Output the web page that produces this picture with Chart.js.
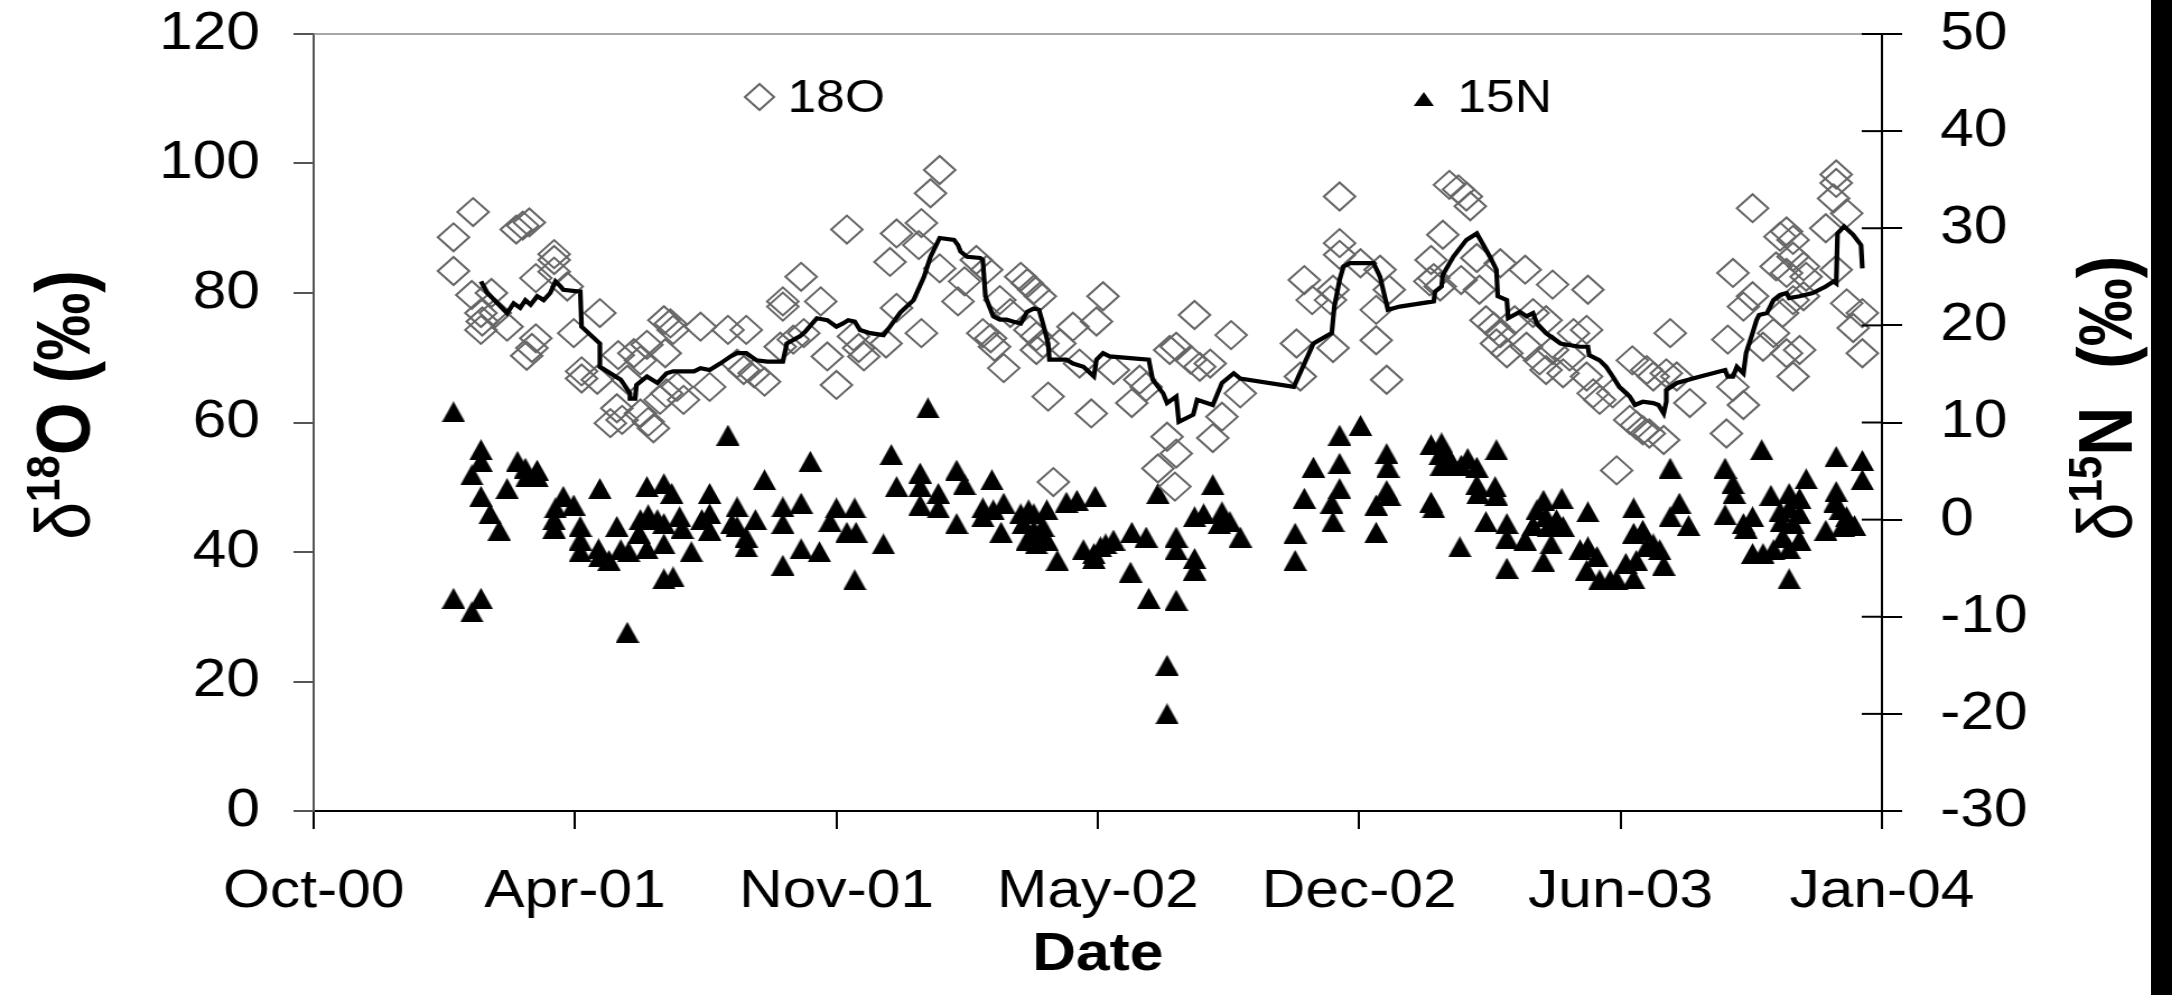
<!DOCTYPE html>
<html>
<head>
<meta charset="utf-8">
<title>d18O / d15N</title>
<script src="https://cdn.jsdelivr.net/npm/chart.js@4.4.1/dist/chart.umd.min.js"></script>
<style>
  html, body { margin: 0; padding: 0; background: #fff; overflow: hidden; }
  #wrap { position: absolute; left: 0; top: 0; width: 1939px; height: 995px;
          transform: scaleX(1.1202); transform-origin: 0 0; }
  #edge { position: absolute; left: 2151px; top: 0; width: 21px; height: 995px; background: #000; }
</style>
</head>
<body>
<div id="wrap"><canvas id="chart"></canvas></div>
<div id="edge"></div>
<script>
// dates are spreadsheet serial day numbers (1 = 1900-01-01)
const dateTicks = [36800, 37000, 37200, 37400, 37600, 37800, 38000];
const dateTickLabels = ['Oct-00', 'Apr-01', 'Nov-01', 'May-02', 'Dec-02', 'Jun-03', 'Jan-04'];

// delta 18O of nitrate (left axis)
const o18Dates = [
  36922, 36907, 36907, 36921, 36936, 36928, 36929, 36928, 36939, 36948, 36955, 36960, 36965, 36984, 36984,
  36970, 36984, 36994, 36970, 36967, 36963, 36999, 37005, 37005, 37019, 37017, 37033, 37045, 37050, 37055,
  37068, 37073, 37075, 37069, 37040, 37032, 37027, 37036, 37056, 37060, 37050, 37065, 37070, 37078, 37083,
  37096, 37103, 37117, 37131, 37124, 37129, 37137, 37145, 37159, 37159, 37173, 37188, 37157, 37167, 37175,
  37193, 37200, 37208, 37213, 37217, 37221, 37238, 37241, 37246, 37246,
  37279, 37272, 37265, 37263, 37265, 37279, 37293, 37298, 37307, 37315, 37312, 37318, 37321, 37325, 37328,
  37341, 37346, 37351, 37356, 37333, 37348, 37353, 37358, 37353, 37362, 37371, 37381, 37386, 37395, 37404,
  37399, 37412, 37426, 37432, 37437, 37455, 37460, 37474, 37471, 37478, 37486, 37453, 37460, 37446, 37459,
  37366, 37488, 37495, 37502, 37509, 37552, 37555, 37558, 37564, 37578, 37580, 37580, 37585, 37585, 37585,
  37601, 37613, 37613, 37616, 37621, 37623,
  37669, 37676, 37682, 37685, 37664, 37655, 37654, 37657, 37662, 37678, 37690, 37692, 37708, 37727, 37748,
  37775, 37697, 37703, 37708, 37705, 37713, 37719, 37733, 37743, 37728, 37738, 37743, 37756, 37748, 37761,
  37764, 37774, 37774, 37779, 37784, 37794, 37809, 37820, 37825, 37807, 37812, 37817, 37822, 37833, 37838,
  37835, 37843, 37853, 37797, 37881, 37886, 37882, 37886, 37894, 37901, 37894, 37901, 37909, 37917, 37922,
  37927, 37932, 37919, 37927, 37932, 37940, 37942, 37924, 37932, 37940, 37927, 37937, 37932, 37957, 37965,
  37965, 37963, 37973, 37965, 37973, 37985, 37978, 37985
];
const o18Values = [
  92.5, 88.6, 83.4, 79.7, 80.0, 76.9, 75.6, 74.3, 76.9, 74.8, 89.8, 90.4, 90.9, 86.0, 85.1,
  82.3, 83.3, 81.0, 73.0, 71.5, 70.3, 73.8, 67.9, 66.8, 76.9, 66.6, 70.4, 70.7, 69.6, 72.0,
  75.8, 75.3, 74.3, 70.7, 66.6, 62.2, 59.9, 60.4, 60.1, 59.1, 61.4, 63.5, 64.5, 65.5, 63.5,
  74.8, 65.5, 74.3, 74.3, 69.1, 68.1, 67.6, 66.3, 78.7, 77.9, 82.5, 78.7, 71.7, 72.8, 73.8,
  70.2, 65.8, 89.8, 73.3, 71.5, 70.2, 72.2, 84.8, 89.2, 77.7,
  99.0, 95.4, 90.8, 87.4, 73.8, 83.8, 78.7, 81.8, 85.1, 83.6, 73.8, 73.0, 71.7, 78.9, 68.4,
  82.5, 81.5, 80.5, 79.5, 76.9, 74.3, 73.3, 72.2, 71.2, 64.0, 72.2, 74.8, 69.1, 61.4, 79.5,
  75.6, 68.1, 63.0, 66.6, 65.5, 71.2, 71.7, 76.6, 69.7, 68.6, 69.1, 57.8, 55.2, 52.9, 50.1,
  50.8, 57.6, 60.9, 73.5, 64.5, 72.2, 67.1, 82.0, 78.9, 78.9, 80.5, 71.5, 94.9, 87.7, 85.9,
  84.6, 72.7, 77.4, 83.6, 66.6, 80.5,
  96.7, 96.0, 94.9, 93.4, 89.0, 85.1, 81.8, 82.3, 81.0, 82.0, 85.4, 80.5, 84.6, 83.6, 81.3,
  80.5, 75.8, 74.8, 73.8, 72.2, 70.7, 75.8, 76.9, 75.8, 71.7, 69.6, 68.1, 67.6, 71.2, 70.2,
  73.8, 74.3, 67.1, 64.5, 63.5, 64.5, 69.6, 68.1, 67.1, 60.4, 59.6, 58.8, 58.3, 57.3, 73.8,
  67.6, 67.1, 63.0, 52.6, 58.3, 83.1, 72.8, 65.5, 62.7, 93.1, 77.9, 79.5, 71.7, 73.8, 88.7,
  89.5, 88.2, 84.1, 83.1, 85.6, 84.1, 82.5, 76.9, 78.9, 79.5, 70.7, 71.2, 67.1, 90.0, 98.3,
  97.0, 94.6, 92.3, 83.6, 78.4, 76.9, 74.6, 70.7
];

// delta 15N of nitrate (right axis)
const n15Dates = [
  36907, 36928, 36928, 36921, 36928, 36935, 36942, 36956, 36962, 36963, 36971, 36971, 36948, 36907, 36928,
  36921, 36991, 36985, 36999, 36984, 36984, 37004, 37004, 37004, 37019, 37018, 37026, 37019, 37032, 37035,
  37041, 37055, 37068, 37074, 37050, 37056, 37063, 37068, 37049, 37055, 37068, 37080, 37082, 37089, 37068,
  37075, 37103, 37097, 37103, 37103, 37117, 37124, 37120, 37124, 37131, 37131, 37138, 37145, 37159, 37159,
  37173, 37180, 37159, 37173, 37187, 37200, 37214, 37195, 37208, 37215, 37214, 37236, 37242, 37246, 37040,
  37270, 37264, 37264, 37264, 37278, 37278, 37292, 37298, 37319, 37292, 37312, 37312, 37320, 37328, 37326,
  37341, 37347, 37351, 37361, 37343, 37351, 37358, 37346, 37353, 37361, 37369, 37376, 37384, 37398, 37389,
  37397, 37402, 37406, 37412, 37397, 37426, 37437, 37425, 37439, 37460, 37460, 37460, 37474, 37474, 37446,
  37488, 37474, 37481, 37495, 37493, 37501, 37509, 37453, 37453, 37551, 37551, 37558, 37565, 37585, 37601,
  37585, 37585, 37579, 37580, 37621, 37622, 37621, 37613, 37613, 37623,
  37655, 37663, 37662, 37667, 37663, 37671, 37678, 37683, 37690, 37705, 37690, 37691, 37704, 37705, 37655,
  37657, 37677, 37697, 37713, 37713, 37727, 37713, 37741, 37755, 37736, 37743, 37751, 37733, 37745, 37756,
  37747, 37741, 37775, 37769, 37775, 37782, 37774, 37784, 37792, 37797, 37810, 37810, 37810, 37817, 37820,
  37825, 37830, 37804, 37812, 37833, 37838, 37845, 37838, 37852, 37880, 37886, 37887, 37880, 37894, 37901,
  37896, 37908, 37915, 37929, 37937, 37942, 37922, 37929, 37937, 37923, 37932, 37924, 37937, 37929, 37901,
  37909, 37917, 37929, 37965, 37985, 37985, 37965, 37964, 37968, 37973, 37979, 37957, 37970
];
const n15Values = [
  11.1, 7.2, 6.0, 4.6, 2.4, 0.6, -1.1, 6.0, 5.3, 4.4, 5.1, 4.4, 3.2, -8.1, -8.1,
  -9.5, 2.4, 1.2, 1.5, 0.0, -0.9, -0.7, -2.1, -3.3, 3.2, -3.0, -4.2, -3.8, -0.7, -3.1,
  -3.3, 3.4, 3.7, 2.7, 0.0, 0.5, 0.0, -0.4, -1.4, -3.0, -2.5, 0.3, -0.9, -3.3, -6.1,
  -5.9, 2.7, 0.0, 0.6, -1.1, 8.7, 1.3, -0.4, -0.7, -1.8, -2.8, 0.0, 4.1, 1.3, -0.4,
  1.7, 6.0, -4.7, -3.0, -3.3, 1.2, 1.2, -0.2, -1.3, -1.3, -6.2, -2.5, 6.7, 3.4, -11.6,
  11.5, 4.8, 3.4, 1.5, 2.7, 1.2, 5.1, 3.6, 4.1, -0.4, 1.2, 0.3, 1.0, 1.7, -1.3,
  0.6, 1.0, 0.6, 1.0, -0.4, -1.1, -0.7, -2.1, -2.5, -2.1, -4.2, 1.8, 2.0, 2.4, -3.1,
  -3.5, -2.8, -2.5, -2.1, -4.0, -1.3, -1.8, -5.4, -8.1, -8.3, -1.8, -3.1, -4.0, -5.2, 2.7,
  3.6, 0.3, 0.6, 0.8, -0.4, -0.2, -1.8, -15.0, -20.0, -1.4, -4.2, 2.2, 5.4, 8.7, 9.7,
  5.8, 3.2, 1.7, -0.2, 6.8, 5.4, 3.0, 1.5, -1.3, 2.5,
  7.7, 7.9, 6.7, 6.8, 5.6, 5.8, 5.6, 6.3, 5.4, 7.2, 3.6, 2.7, 3.4, 2.5, 1.8,
  1.2, -2.8, -0.2, -0.4, -1.9, -2.1, -5.0, 2.0, 2.2, 1.0, 0.3, 0.0, -0.6, -0.7, -0.7,
  -2.5, -4.3, 0.8, -3.1, -2.8, -3.8, -5.2, -6.2, -6.2, -6.2, -6.1, 1.2, -1.4, -1.1, -2.8,
  -2.5, -3.1, -4.5, -4.2, -4.7, 5.3, 1.7, 0.3, -0.6, 5.3, 3.7, 2.7, 0.5, -0.4, 0.3,
  -0.9, 7.2, 2.5, 2.7, 2.2, 4.2, 0.8, 1.2, 0.6, -0.2, -0.4, -1.8, -2.1, -3.0, -3.5,
  -3.5, -3.1, -6.1, 6.5, 6.1, 4.1, 2.9, 1.8, 1.0, 0.3, -0.6, -1.1, -0.7
];

// running mean of 18O drawn as the black line (left axis)
const trendDates = [
  36928, 36933, 36948, 36953, 36958, 36962, 36966, 36971, 36976, 36981, 36985, 36989, 36991, 37004, 37005,
  37019, 37019, 37035, 37042, 37042, 37046, 37047, 37055, 37063, 37070, 37075, 37091, 37096, 37103, 37111,
  37119, 37124, 37131, 37139, 37147, 37159, 37162, 37172, 37176, 37185, 37193, 37200, 37205, 37209, 37214,
  37218, 37226, 37236, 37241, 37249, 37259, 37267, 37272, 37279, 37290, 37293, 37295, 37300, 37310, 37312,
  37314, 37318, 37320, 37325, 37330, 37335, 37341, 37346, 37351, 37355, 37358, 37362, 37363, 37376, 37381,
  37389, 37397, 37399, 37404, 37409, 37427, 37439, 37442, 37450, 37453, 37460, 37462, 37473, 37476, 37488,
  37495, 37504, 37509, 37550, 37565, 37579, 37581, 37585, 37588, 37593, 37611, 37616, 37622, 37631, 37657,
  37658, 37663, 37664, 37672, 37682, 37690, 37692, 37700, 37705, 37706, 37713, 37714, 37723, 37728, 37733,
  37736, 37743, 37754, 37759, 37769, 37775, 37776, 37784, 37789, 37794, 37799, 37807, 37811, 37817, 37825,
  37829, 37833, 37835, 37835, 37843, 37861, 37880, 37882, 37886, 37889, 37894, 37896, 37901, 37904, 37906,
  37912, 37917, 37922, 37927, 37929, 37937, 37947, 37957, 37963, 37965, 37966, 37971, 37978, 37984, 37985
];
const trendValues = [
  81.8, 80.0, 76.9, 78.4, 77.7, 78.9, 78.2, 79.5, 78.9, 80.0, 81.8, 81.0, 80.5, 80.2, 74.8,
  72.2, 68.6, 66.6, 64.5, 63.7, 63.7, 65.8, 67.1, 66.1, 67.6, 67.9, 67.9, 68.4, 68.1, 69.1,
  70.2, 70.7, 70.7, 69.6, 69.4, 69.4, 72.2, 73.3, 74.0, 76.1, 75.8, 74.8, 75.3, 75.8, 75.6,
  74.3, 73.8, 73.5, 74.8, 77.0, 78.9, 82.5, 85.6, 88.5, 88.2, 87.4, 86.4, 85.6, 85.4, 85.1,
  79.5, 77.4, 76.4, 75.9, 75.9, 75.6, 75.3, 77.1, 77.6, 77.4, 75.3, 72.2, 69.7, 69.7, 69.1,
  68.6, 67.1, 69.7, 70.7, 70.2, 69.9, 69.7, 66.6, 64.5, 63.0, 64.0, 60.1, 61.2, 63.5, 62.7,
  66.1, 67.6, 66.8, 65.5, 72.2, 73.8, 77.9, 82.0, 84.1, 84.6, 84.6, 82.5, 77.4, 77.9, 78.7,
  80.2, 81.0, 82.8, 85.6, 88.2, 89.2, 88.5, 85.6, 83.6, 79.5, 78.9, 76.1, 77.1, 76.4, 76.9,
  75.3, 73.8, 72.2, 72.0, 71.7, 71.7, 70.4, 69.6, 68.6, 67.1, 65.5, 64.0, 62.7, 63.2, 63.0,
  62.7, 61.4, 63.2, 65.0, 66.1, 67.1, 68.1, 67.1, 67.1, 68.6, 67.6, 70.7, 73.8, 75.8, 76.6,
  76.9, 78.9, 79.7, 80.0, 79.2, 79.5, 80.0, 81.0, 81.8, 81.5, 89.2, 90.3, 89.0, 87.4, 83.8
];

const FONT = '"Liberation Sans", Arial, sans-serif';
const pts = (xs, ys) => xs.map((x, i) => ({ x: x, y: ys[i] }));

// filled triangle marker, a bit taller than an equilateral one, centred on its box
function triangleMark(w, h) {
  const c = document.createElement('canvas');
  c.width = w;
  c.height = h;
  const g = c.getContext('2d');
  g.fillStyle = '#000';
  g.beginPath();
  g.moveTo(w / 2, 0);
  g.lineTo(w, h);
  g.lineTo(0, h);
  g.closePath();
  g.fill();
  return c;
}
const triMark = triangleMark(21, 21);
const triLegend = triangleMark(18, 14);

function verticalTitle(ctx, x, yc, parts) {
  ctx.save();
  ctx.translate(x, yc);
  ctx.rotate(-Math.PI / 2);
  ctx.textBaseline = 'alphabetic';
  ctx.textAlign = 'left';
  const fontOf = p => (p[3] ? '' : 'bold ') + p[1] + 'px ' + FONT;
  let w = 0;
  parts.forEach(p => { ctx.font = fontOf(p); w += ctx.measureText(p[0]).width; });
  let cx = -w / 2;
  parts.forEach(p => {
    ctx.font = fontOf(p);
    ctx.fillText(p[0], cx, -p[2]);
    cx += ctx.measureText(p[0]).width;
  });
  ctx.restore();
}

const extras = {
  id: 'extras',
  afterDraw(chart) {
    const ctx = chart.ctx;
    const a = chart.chartArea;
    const r = chart.scales.y2;
    ctx.save();
    // thin frame line on top
    ctx.strokeStyle = '#8a8a8a';
    ctx.lineWidth = 1.5;
    ctx.beginPath();
    ctx.moveTo(a.left, a.top);
    ctx.lineTo(a.right, a.top);
    ctx.stroke();
    // right axis ticks cross the axis
    ctx.strokeStyle = '#000';
    ctx.lineWidth = 2;
    r.ticks.forEach(t => {
      const py = r.getPixelForValue(t.value);
      ctx.beginPath();
      ctx.moveTo(a.right - 18, py);
      ctx.lineTo(a.right, py);
      ctx.stroke();
    });
    // legend
    ctx.strokeStyle = '#666';
    ctx.lineWidth = 2;
    const dx = 678, dy = 97, dr = 13;
    ctx.beginPath();
    ctx.moveTo(dx - dr, dy); ctx.lineTo(dx, dy - dr); ctx.lineTo(dx + dr, dy); ctx.lineTo(dx, dy + dr);
    ctx.closePath();
    ctx.stroke();
    ctx.drawImage(triLegend, 1271 - 9, 99 - 7);
    ctx.fillStyle = '#000';
    ctx.font = '46px ' + FONT;
    ctx.textBaseline = 'alphabetic';
    ctx.textAlign = 'left';
    ctx.fillText('18O', 703, 112);
    ctx.fillText('15N', 1301, 112);
    // axis titles
    verticalTitle(ctx, 80, 405, [['\u03b4', 68, 0, 1], ['18', 42, 27], ['O (\u2030)', 68, 0]]);
    verticalTitle(ctx, 1903, 398, [['\u03b4', 68, 0, 1], ['15', 42, 27], ['N  (\u2030)', 68, 0]]);
    ctx.restore();
  }
};

const tickFont = { family: FONT, size: 54 };

new Chart(document.getElementById('chart'), {
  type: 'scatter',
  data: {
    datasets: [
      {
        label: 'running mean',
        data: pts(trendDates, trendValues),
        showLine: true,
        borderColor: '#000',
        borderWidth: 4.2,
        pointRadius: 0,
        yAxisID: 'y',
        order: 0
      },
      {
        label: '18O',
        data: pts(o18Dates, o18Values),
        pointStyle: 'rectRot',
        pointRadius: 14,
        borderWidth: 2,
        borderColor: '#666',
        backgroundColor: 'rgba(0,0,0,0)',
        yAxisID: 'y',
        order: 1
      },
      {
        label: '15N',
        data: pts(n15Dates, n15Values),
        pointStyle: triMark,
        pointRadius: 10.5,
        borderWidth: 0,
        borderColor: '#000',
        backgroundColor: '#000',
        yAxisID: 'y2',
        order: 2
      }
    ]
  },
  options: {
    responsive: true,
    maintainAspectRatio: false,
    animation: false,
    events: [],
    layout: { padding: { top: 34, left: 0, right: 0, bottom: 0 } },
    plugins: { legend: { display: false }, tooltip: { enabled: false } },
    scales: {
      x: {
        type: 'linear',
        min: 36800,
        max: 38000,
        afterBuildTicks: s => { s.ticks = dateTicks.map(v => ({ value: v })); },
        afterFit: s => { s.height = 184; s.paddingLeft = 0; s.paddingRight = 0; },
        ticks: {
          callback: v => dateTickLabels[dateTicks.indexOf(v)],
          font: tickFont, color: '#000', padding: 31, maxRotation: 0, autoSkip: false
        },
        grid: { drawOnChartArea: false, tickLength: 18, color: '#000', lineWidth: 2 },
        border: { color: '#000', width: 2 },
        title: {
          display: true, text: 'Date', color: '#000',
          font: { family: FONT, size: 54, weight: 'bold' },
          padding: { top: 0, bottom: 7 }
        }
      },
      y: {
        position: 'left',
        min: 0,
        max: 120,
        afterFit: s => { s.width = 280; s.paddingTop = 0; s.paddingBottom = 0; },
        ticks: { stepSize: 20, font: tickFont, color: '#000', padding: 30 },
        grid: { drawOnChartArea: false, tickLength: 18, color: '#555', lineWidth: 2 },
        border: { color: '#555', width: 2 }
      },
      y2: {
        position: 'right',
        min: -30,
        max: 50,
        afterFit: s => { s.width = 259; s.paddingTop = 0; s.paddingBottom = 0; },
        ticks: { stepSize: 10, font: tickFont, color: '#000', padding: 34, callback: v => String(v) },
        grid: { drawOnChartArea: false, tickLength: 18, color: '#000', lineWidth: 2 },
        border: { color: '#000', width: 2 }
      }
    }
  },
  plugins: [extras]
});
</script>
</body>
</html>
